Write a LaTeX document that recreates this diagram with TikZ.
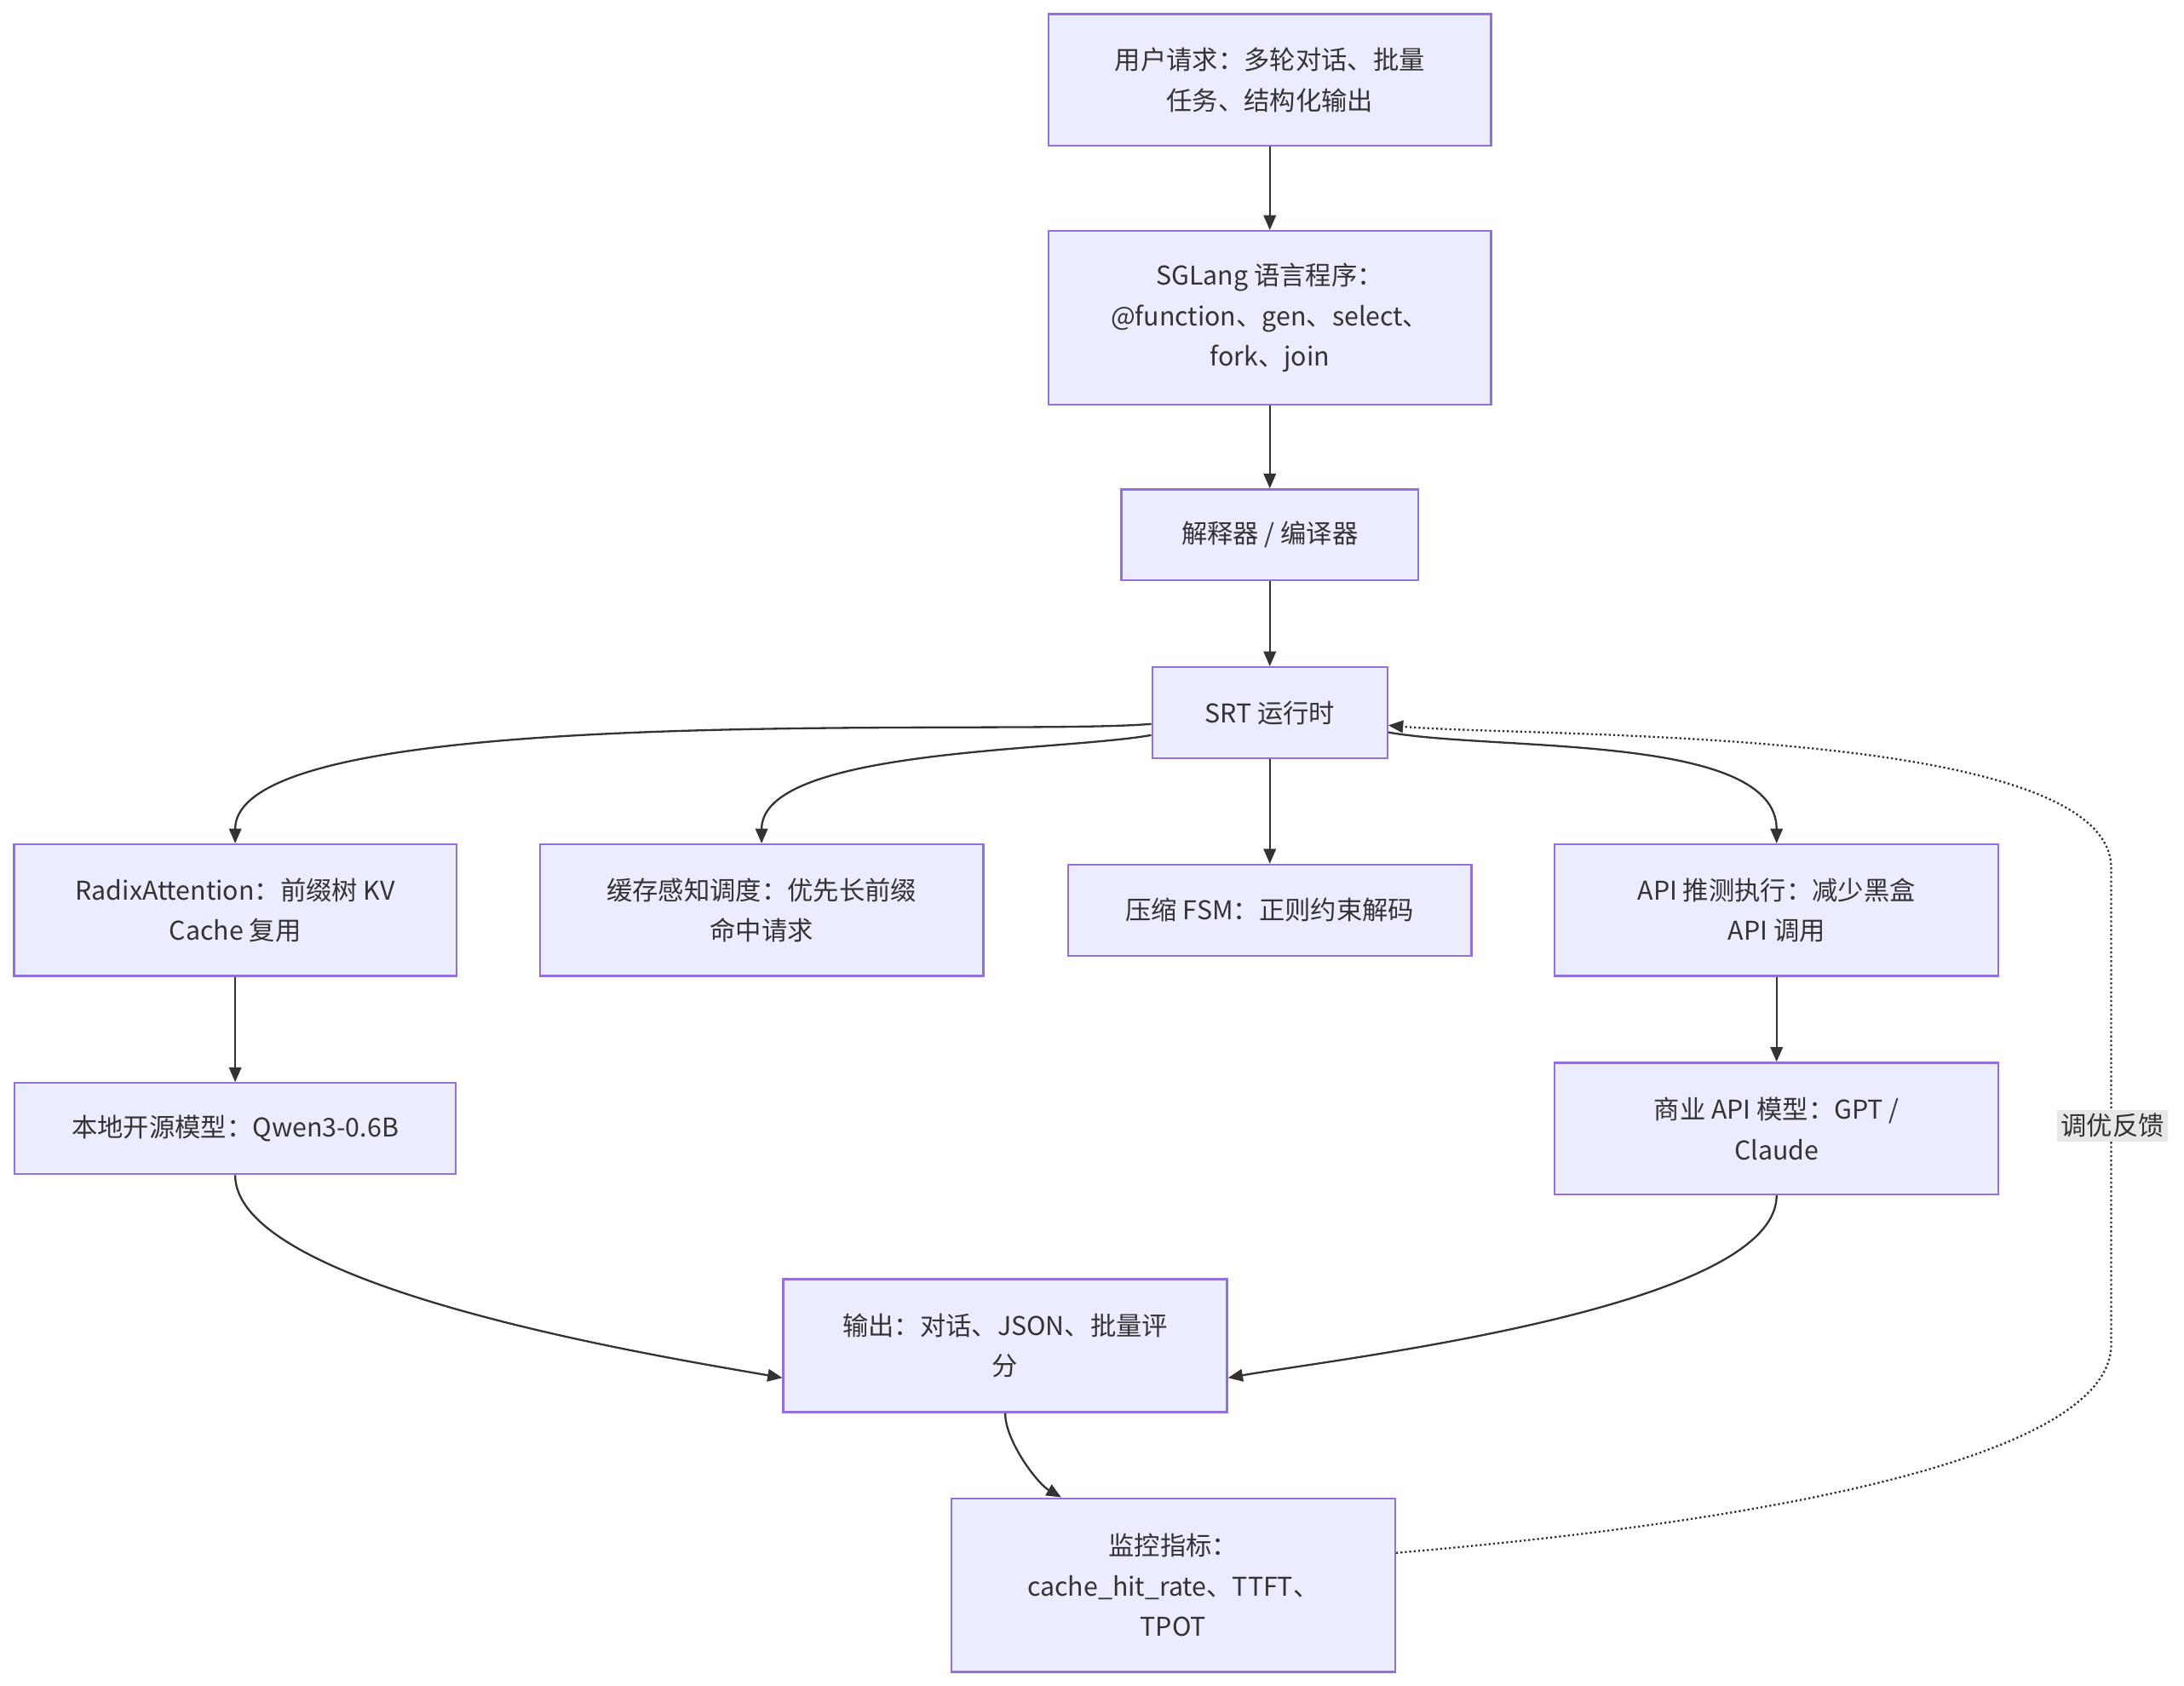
\documentclass[tikz,border=0pt]{standalone}
\usepackage{fontspec}
\setmainfont{Noto Sans CJK SC}
\usetikzlibrary{arrows.meta}
\definecolor{boxfill}{HTML}{ECECFF}
\definecolor{boxline}{HTML}{9370DB}
\definecolor{edge}{HTML}{333333}
\definecolor{lblbg}{HTML}{E8E8E8}
\tikzset{
  box/.style={draw=boxline,fill=boxfill,line width=0.8pt,align=center,
    inner sep=0pt,font=\fontsize{10.5}{16.5}\selectfont,text=edge},
  flow/.style={draw=edge,line width=0.8pt,-{Triangle[length=6pt,width=5pt]}},
}
\begin{document}
\begin{tikzpicture}[x=0.02cm,y=-0.02cm]
  \useasboundingbox (0,0) rectangle (1560,1204);

  % Boxes
  \node[box,minimum width=6.32cm,minimum height=1.88cm] (req) at (907,57) {用户请求：多轮对话、批量\\任务、结构化输出};
  \node[box,minimum width=6.32cm,minimum height=2.48cm] (prog) at (907,227) {SGLang 语言程序：\\@function、gen、select、\\fork、join};
  \node[box,minimum width=4.24cm,minimum height=1.3cm] (interp) at (907,382) {解释器 / 编译器};
  \node[box,minimum width=3.36cm,minimum height=1.3cm] (srt) at (907,509) {SRT 运行时};
  \node[box,minimum width=6.32cm,minimum height=1.88cm] (radix) at (168,650) {RadixAttention：前缀树 KV\\Cache 复用};
  \node[box,minimum width=6.34cm,minimum height=1.88cm] (sched) at (544,650) {缓存感知调度：优先长前缀\\命中请求};
  \node[box,minimum width=5.76cm,minimum height=1.3cm] (fsm) at (907,650) {压缩 FSM：正则约束解码};
  \node[box,minimum width=6.34cm,minimum height=1.88cm] (spec) at (1269,650) {API 推测执行：减少黑盒\\API 调用};
  \node[box,minimum width=6.30cm,minimum height=1.3cm] (local) at (168,806) {本地开源模型：Qwen3-0.6B};
  \node[box,minimum width=6.34cm,minimum height=1.88cm] (api) at (1269,806) {商业 API 模型：GPT /\\Claude};
  \node[box,minimum width=6.34cm,minimum height=1.9cm] (out) at (718,961) {输出：对话、JSON、批量评\\分};
  \node[box,minimum width=6.34cm,minimum height=2.48cm] (mon) at (838,1132) {监控指标：\\cache\_hit\_rate、TTFT、\\TPOT};

  % Edges
  \draw[flow] (req) -- (prog);
  \draw[flow] (prog) -- (interp);
  \draw[flow] (interp) -- (srt);
  \draw[flow] (srt.west) ++(0,8) to[out=185,in=90,looseness=0.4] (radix.north);
  \draw[flow] (srt.west) ++(0,16) to[out=190,in=90,looseness=0.6] (sched.north);
  \draw[flow] (srt) -- (fsm);
  \draw[flow] (srt.east) ++(0,14) to[out=-10,in=90,looseness=0.7] (spec.north);
  \draw[flow] (radix) -- (local);
  \draw[flow] (spec) -- (api);
  \draw[flow] (local.south) to[out=-90,in=170,looseness=0.5] ([yshift=-0.46cm]out.west);
  \draw[flow] (api.south) to[out=-90,in=10,looseness=0.5] ([yshift=-0.46cm]out.east);
  \draw[flow] (out.south) to[out=-90,in=150,looseness=0.7] ([xshift=-1.6cm]mon.north);
  \draw[flow,densely dotted] ([yshift=0.46cm]mon.east)
    to[out=5,in=-90,looseness=0.5] (1508,960)
    -- (1508,620)
    to[out=90,in=-5,looseness=0.5] ([yshift=-0.18cm]srt.east);
  \node[fill=lblbg,inner sep=1.5pt,font=\fontsize{10.5}{12}\selectfont,text=edge] (fb) at (1509,804) {调优反馈};
\end{tikzpicture}
\end{document}
